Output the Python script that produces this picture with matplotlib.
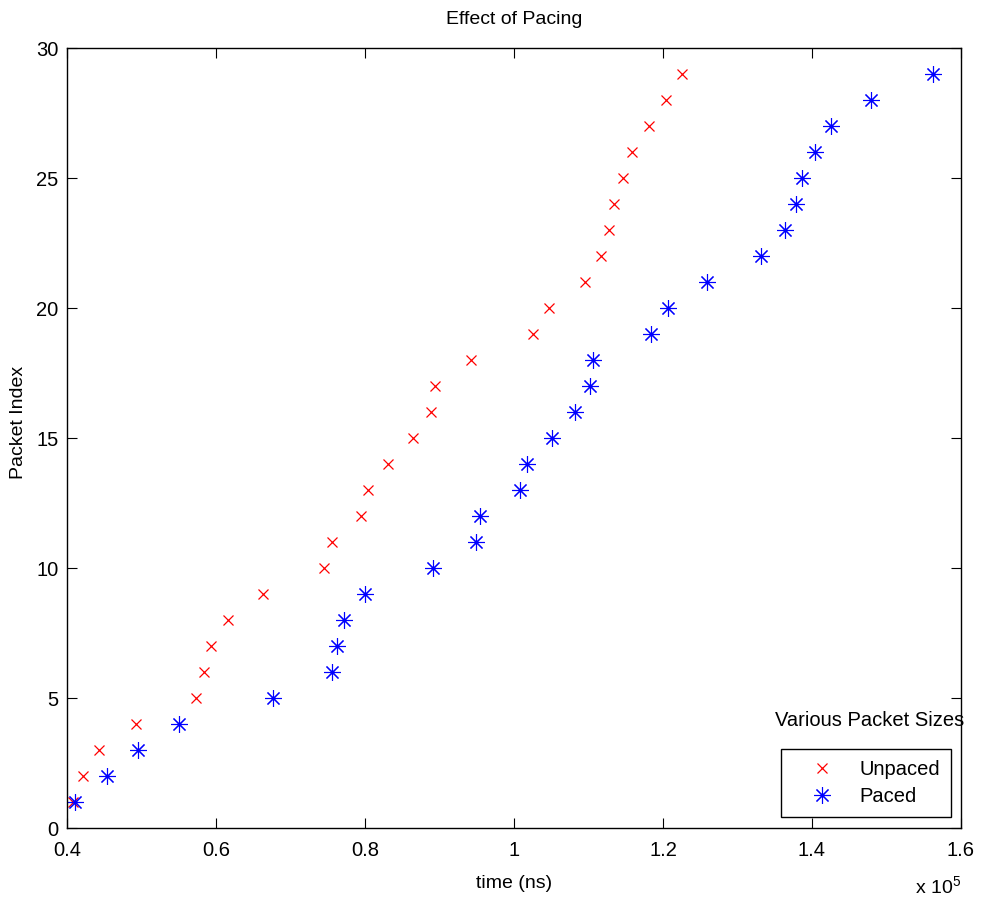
import numpy as np
import matplotlib
matplotlib.use('Agg')
import matplotlib.pyplot as plt

plt.rcParams['font.family'] = ['Liberation Sans', 'DejaVu Sans']
plt.rcParams['mathtext.default'] = 'regular'

# packet index vs. arrival time (ns, x 1e5)
packet_index = np.arange(1, 30)
unpaced_time = [0.408, 0.421, 0.443, 0.492, 0.573, 0.584, 0.593, 0.616, 0.663, 0.745,
                0.756, 0.795, 0.804, 0.831, 0.865, 0.888, 0.894, 0.942, 1.025, 1.047,
                1.095, 1.117, 1.128, 1.134, 1.146, 1.159, 1.181, 1.204, 1.226]
paced_time = [0.411, 0.454, 0.495, 0.551, 0.676, 0.756, 0.762, 0.772, 0.800, 0.891,
              0.949, 0.954, 1.008, 1.017, 1.051, 1.082, 1.102, 1.106, 1.184, 1.207,
              1.259, 1.331, 1.364, 1.378, 1.387, 1.404, 1.425, 1.479, 1.562]
xticks = [0.4, 0.6, 0.8, 1.0, 1.2, 1.4, 1.6]
xtick_labels = ['0.4', '0.6', '0.8', '1', '1.2', '1.4', '1.6']
yticks = [0, 5, 10, 15, 20, 25, 30]

fig = plt.figure(figsize=(9.82, 9.07), dpi=100)
ax = fig.add_axes([67/982, 79/907, 894/982, 780/907])

ax.plot(unpaced_time, packet_index, linestyle='none', marker='x', color='red',
        markersize=7.5, markeredgewidth=0.9, label='Unpaced')
ax.plot(paced_time, packet_index, linestyle='none', marker=(8, 2, 0), color='blue',
        markersize=12, markeredgewidth=0.8, label='Paced')

ax.set_xlim(0.4, 1.6)
ax.set_ylim(0, 30)
ax.set_xticks(xticks)
ax.set_xticklabels(xtick_labels)
ax.set_yticks(yticks)
ax.tick_params(direction='in', length=7, width=0.8, top=True, right=True,
               labelsize=14.5)
ax.tick_params(axis='x', pad=9)
ax.tick_params(axis='y', pad=6)
for s in ax.spines.values():
    s.set_linewidth(1.0)

ax.set_title('Effect of Pacing', fontsize=14, pad=17)
ax.set_xlabel('time (ns)', fontsize=14, labelpad=11)
ax.set_ylabel('Packet Index', fontsize=14)
ax.yaxis.set_label_coords(-0.0447, 0.52)

fig.text(961/982, 1 - 893/907, r'x 10$^5$', fontsize=14, ha='right', va='baseline')

leg = ax.legend(loc='lower right', bbox_to_anchor=(951/982, 1 - 817/907),
                bbox_transform=fig.transFigure, fontsize=14.5, frameon=True,
                fancybox=False, framealpha=1, edgecolor='black',
                handlelength=3.0, handletextpad=0.35, borderpad=0.55,
                labelspacing=0.4, borderaxespad=0)
leg.get_frame().set_linewidth(1.0)
fig.text(870/982, 1 - 721/907, 'Various Packet Sizes', fontsize=14.5,
         ha='center', va='center')

fig.savefig('out.png', dpi=100)
